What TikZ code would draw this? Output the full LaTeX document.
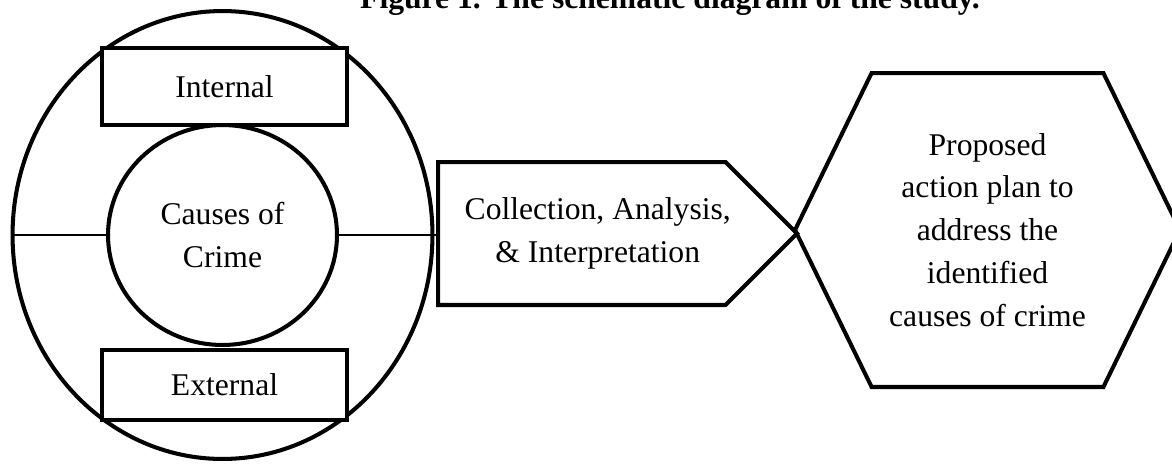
\documentclass[tikz,border=0pt]{standalone}
\usepackage{fontspec}
\setmainfont{Liberation Serif}
\usetikzlibrary{shapes.geometric,shapes.symbols}

\begin{document}
\begin{tikzpicture}[
  x=0.02cm,y=-0.02cm,
  every node/.style={font=\fontsize{18}{24.4}\selectfont},
  ring/.style={draw,ellipse,line width=2.3pt,inner sep=0pt,align=center},
  tag/.style={draw,rectangle,line width=2.3pt,fill=white,minimum width=4.9cm,align=center},
  flow/.style={draw,signal,signal to=east,signal pointer angle=90,line width=2.3pt,align=center},
  goal/.style={draw,signal,signal to=east and west,signal pointer angle=128,line width=2.3pt,align=center},
  spoke/.style={line width=1.2pt}
]
\useasboundingbox (0,0) rectangle (1172,464);
\node[font=\fontsize{18}{24.4}\selectfont\bfseries,anchor=base] (title) at (670,8) {Figure 1. The schematic diagram of the study.};
\node[ring,minimum width=8.4cm,minimum height=8.96cm] (outer) at (222.5,235) {};
\node[ring,minimum width=4.58cm,minimum height=4.4cm] (causes) at (222.5,235) {Causes of\\Crime};
\node[tag,minimum height=1.54cm] (internal) at (224.5,86.5) {Internal};
\node[tag,minimum height=1.4cm] (external) at (224.5,385) {External};
\node[flow,minimum width=7.18cm,minimum height=2.86cm,anchor=west,
  label={[align=center,xshift=0.32cm]center:{Collection, Analysis,\\\& Interpretation}}] (process) at (436,233.5) {};
\node[goal,minimum width=7.7cm,minimum height=6.28cm] (plan) at (987.5,230) {Proposed\\action plan to\\address the\\identified\\causes of crime};
\draw[spoke] (outer.west) -- (causes.west);
\draw[spoke] (causes.east) -- (causes.east -| process.west);
\end{tikzpicture}
\end{document}
